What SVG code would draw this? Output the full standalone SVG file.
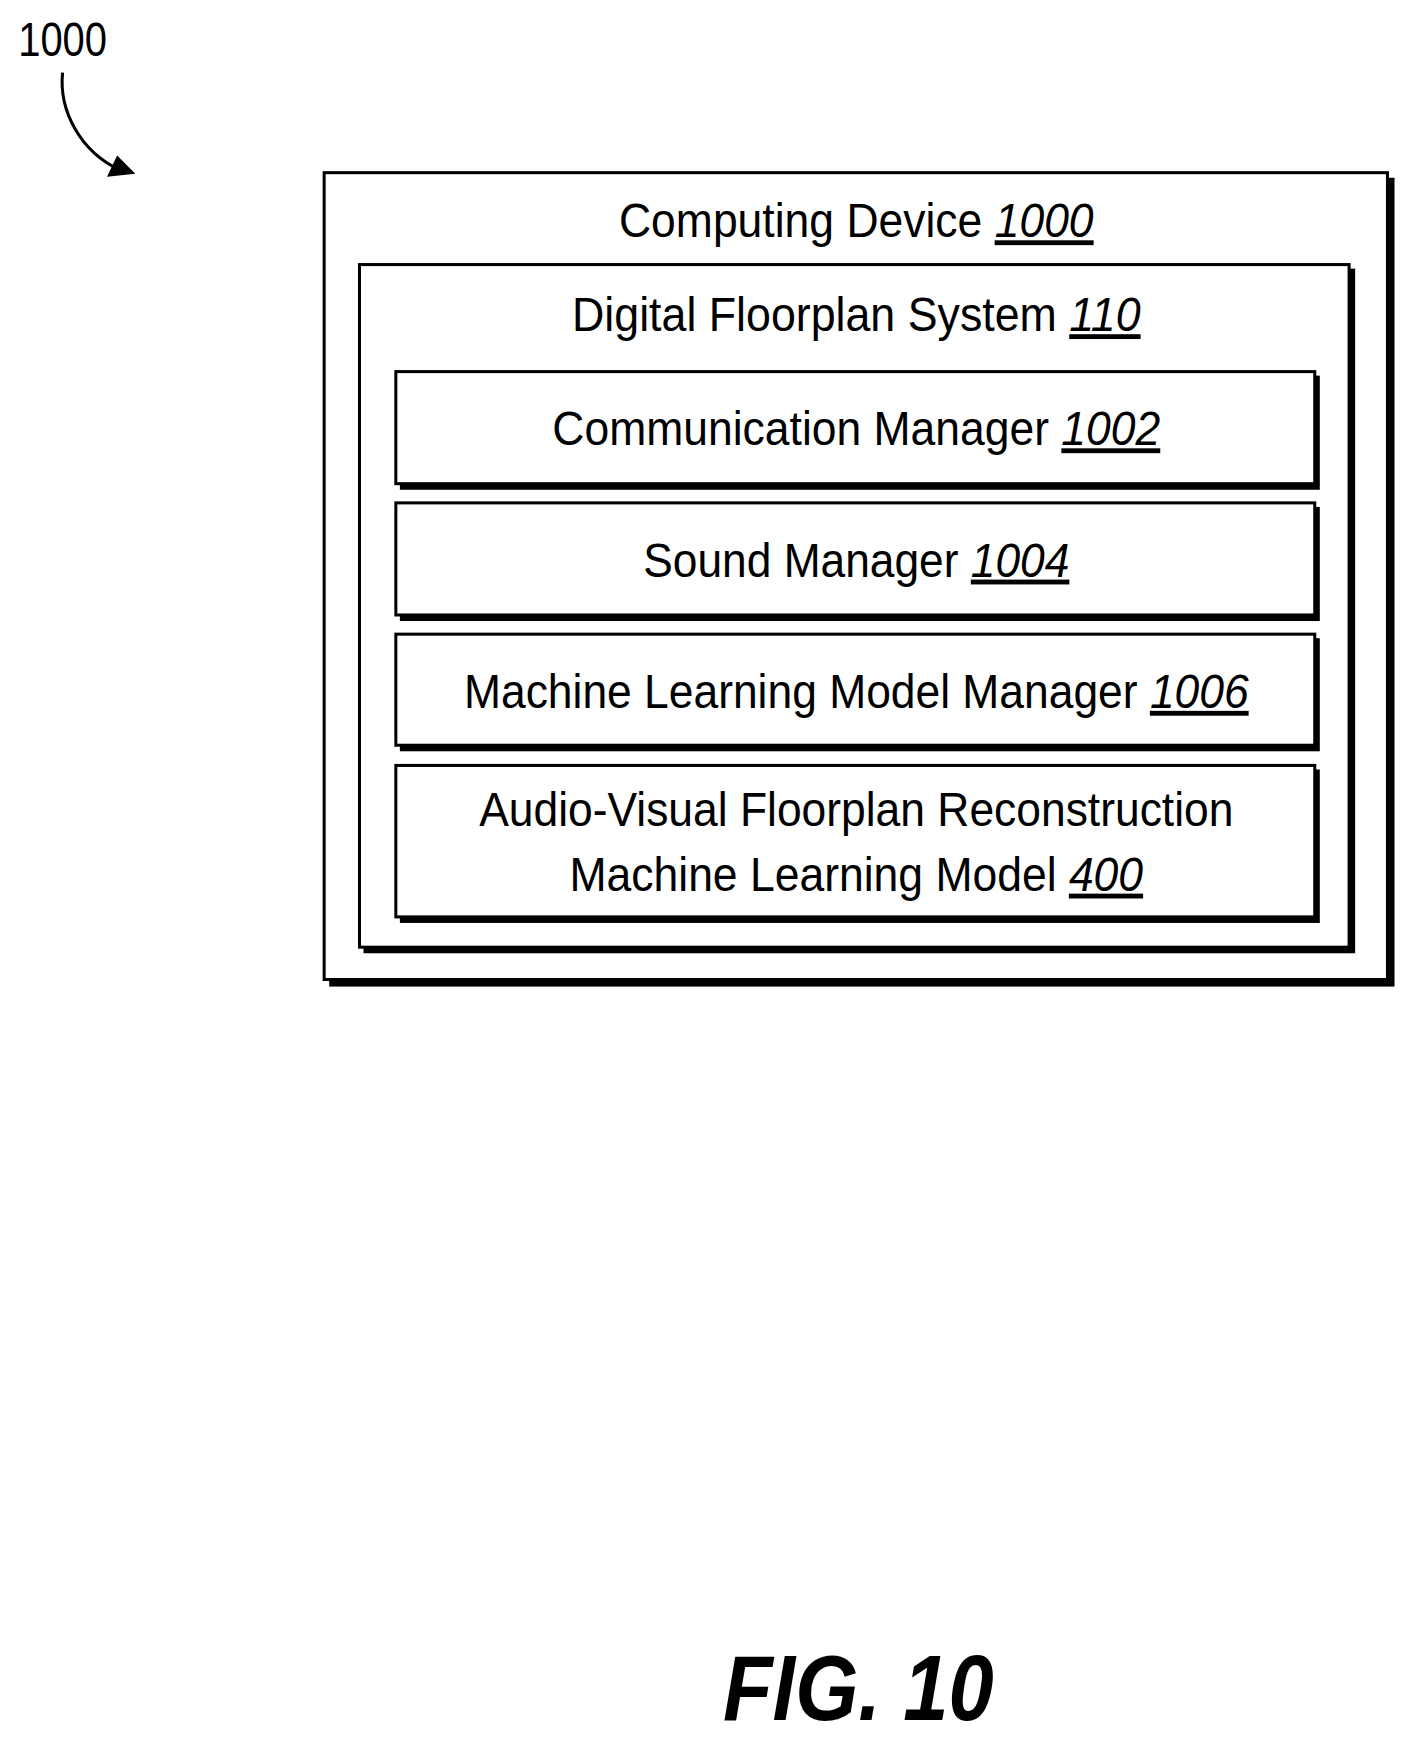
<svg xmlns="http://www.w3.org/2000/svg" width="1411" height="1742" viewBox="0 0 1411 1742">
<defs>
<style>
.t{font-family:"Liberation Sans Narrow","Liberation Sans",Arial,sans-serif;font-size:48px;fill:#000}
.n{font-style:italic;text-decoration:underline}
.box{fill:#fff;stroke:#000;stroke-width:3}
.sh{fill:#000}
</style>
</defs>
<rect width="1411" height="1742" fill="#fff"/>
<g transform="scale(1.0098)">
<text class="t" x="18" y="55" font-size="42" textLength="88" lengthAdjust="spacingAndGlyphs">1000</text>
<g id="connectors">
<path d="M62,72 C58,110 80,150 118,168" fill="none" stroke="#000" stroke-width="3"/>
<path d="M134,172 L106,175 L116,154 z" fill="#000"/>
</g>
<g id="computing-device">
<rect class="sh" x="326" y="176" width="1055" height="801"/>
<rect class="box" x="321" y="171" width="1053" height="799"/>
<text class="t" x="848" y="235" text-anchor="middle" textLength="470" lengthAdjust="spacingAndGlyphs">Computing Device <tspan class="n">1000</tspan></text>
</g>
<g id="digital-floorplan-system">
<rect class="sh" x="360" y="266" width="982" height="678"/>
<rect class="box" x="356" y="262" width="980" height="676"/>
<text class="t" x="848" y="328" text-anchor="middle" textLength="563" lengthAdjust="spacingAndGlyphs">Digital Floorplan System <tspan class="n">110</tspan></text>
</g>
<g id="communication-manager">
<rect class="sh" x="396" y="372" width="911" height="113"/>
<rect class="box" x="392" y="368" width="910" height="111"/>
<text class="t" x="848" y="441" text-anchor="middle" textLength="602" lengthAdjust="spacingAndGlyphs">Communication Manager <tspan class="n">1002</tspan></text>
</g>
<g id="sound-manager">
<rect class="sh" x="396" y="502" width="911" height="113"/>
<rect class="box" x="392" y="498" width="910" height="111"/>
<text class="t" x="848" y="571" text-anchor="middle" textLength="422" lengthAdjust="spacingAndGlyphs">Sound Manager <tspan class="n">1004</tspan></text>
</g>
<g id="ml-model-manager">
<rect class="sh" x="396" y="632" width="911" height="112"/>
<rect class="box" x="392" y="628" width="910" height="110"/>
<text class="t" x="848" y="701" text-anchor="middle" textLength="777" lengthAdjust="spacingAndGlyphs">Machine Learning Model Manager <tspan class="n">1006</tspan></text>
</g>
<g id="av-floorplan-model">
<rect class="sh" x="396" y="762" width="911" height="152"/>
<rect class="box" x="392" y="758" width="910" height="150"/>
<text class="t" x="848" y="818" text-anchor="middle" textLength="747" lengthAdjust="spacingAndGlyphs">Audio-Visual Floorplan Reconstruction</text>
<text class="t" x="848" y="882" text-anchor="middle" textLength="568" lengthAdjust="spacingAndGlyphs">Machine Learning Model <tspan class="n">400</tspan></text>
</g>
<text x="850" y="1703" text-anchor="middle" font-family="Liberation Sans,Arial,sans-serif" font-size="92" font-weight="bold" font-style="italic" textLength="268" lengthAdjust="spacingAndGlyphs">FIG. 10</text>
</g>
</svg>
